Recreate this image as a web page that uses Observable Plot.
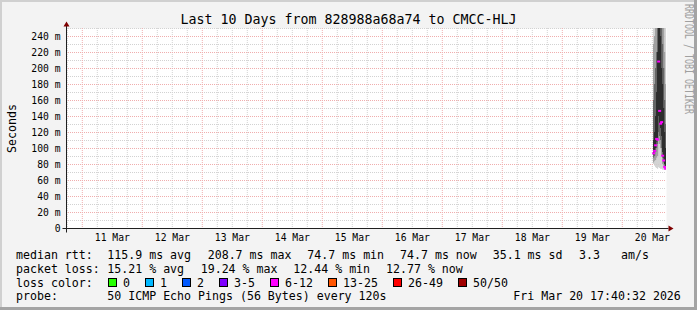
<!DOCTYPE html>
<html><head><meta charset="utf-8">
<script src="https://cdn.jsdelivr.net/npm/d3@7"></script>
<script src="https://cdn.jsdelivr.net/npm/@observablehq/plot@0.6"></script>
<style>
body{margin:0;background:#f3f3f3}
svg text{font-family:"DejaVu Sans Mono",monospace}
</style>
</head><body><div id="chart"></div>
<script>
// ---------- data ----------
const title = "Last 10 Days from 828988a68a74 to CMCC-HLJ";
const yLabel = "Seconds";
const watermark = "RRDTOOL / TOBI OETIKER";
const endTime = new Date("2026-03-20T17:40:32Z");
const spanDays = 10;

const tickDays = ["2026-03-11","2026-03-12","2026-03-13","2026-03-14","2026-03-15","2026-03-16","2026-03-17","2026-03-18","2026-03-19","2026-03-20"];
const dayLabels = ["11 Mar","12 Mar","13 Mar","14 Mar","15 Mar","16 Mar","17 Mar","18 Mar","19 Mar","20 Mar"];
const yTicks = [0,20,40,60,80,100,120,140,160,180,200,220,240];
const yTickLabels = ["0","20 m","40 m","60 m","80 m","100 m","120 m","140 m","160 m","180 m","200 m","220 m","240 m"];

const sampleTimes = ["2026-03-20T12:32Z","2026-03-20T12:56Z","2026-03-20T13:20Z","2026-03-20T13:44Z","2026-03-20T14:08Z","2026-03-20T14:32Z","2026-03-20T14:56Z","2026-03-20T15:20Z","2026-03-20T15:44Z","2026-03-20T16:08Z","2026-03-20T16:32Z","2026-03-20T16:56Z","2026-03-20T17:20Z"];
const medianMs = [94, 97, 104, 112, 111, 208.7, 147, 131, 133, 91, 85, 77, 74.7];
const lossPct  = [14.5, 16, 15, 13, 17, 19.24, 16, 15, 14, 15.5, 13, 12.44, 12.77];
const pingMin  = [80, 78, 76, 75, 74, 76, 75, 74, 74, 73, 73, 73, 73];
const ping10   = [82, 84, 85, 88, 90, 110, 105, 100, 90, 80, 78, 76, 75];
const ping25   = [88, 90, 95, 100, 105, 120, 115, 110, 100, 88, 82, 78, 76];
const ping40   = [92, 95, 100, 108, 110, 140, 130, 125, 115, 95, 88, 80, 77];
const ping60   = [110, 120, 140, 170, 220, 300, 280, 240, 200, 180, 150, 120, 100];
const ping75   = [160, 180, 200, 220, 260, 300, 300, 280, 260, 230, 200, 160, 130];
const ping90   = [230, 240, 250, 260, 270, 300, 300, 300, 300, 280, 260, 220, 180];
const pingMax  = [300, 300, 300, 300, 300, 300, 300, 300, 300, 300, 300, 300, 300];
const stepMinutes = 24;

const lossLabels = ["0","1","2","3-5","6-12","13-25","26-49","50/50"];
const lossUpper  = [0, 1, 2, 5, 12, 25, 49, 50];
const lossColors = ["#26ff00","#00b8ff","#0059ff","#7e00ff","#ff00ff","#ff5500","#ff0000","#a10000"];
const pingsPerProbe = 50;

const rttStats  = ["115.9 ms avg","208.7 ms max","74.7 ms min","74.7 ms now","35.1 ms sd","3.3","am/s"];
const lossStats = ["15.21 % avg","19.24 % max","12.44 % min","12.77 % now"];
const probeText = "50 ICMP Echo Pings (56 Bytes) every 120s";
const stampText = "Fri Mar 20 17:40:32 2026";

// ---------- layout ----------
const W = 697, H = 310;
const rttX  = [107.3, 207.7, 307.3, 400, 492.7, 579, 621];
const lossX = [107.3, 200.7, 293.3, 386];
const boxX  = [108, 145, 182, 219, 270, 328, 393, 458];
const rowY  = [259, 272.8, 286.6, 300.4];

// ---------- derived ----------
const startTime = new Date(+endTime - spanDays * 864e5);
const tickDates = tickDays.map(d => new Date(d + "T12:00:00Z"));
const dayLines = d3.utcDay.range(startTime, endTime);
const sixHourLines = d3.utcHour.every(6).range(startTime, endTime).filter(d => d.getUTCHours() !== 0);
const yMajor = d3.range(20, 251, 20);
const yMinor = d3.range(10, 251, 20);

function lossColor(p) {
  const n = Math.round(p * pingsPerProbe / 100);
  const i = lossUpper.findIndex(u => n <= u);
  return lossColors[i < 0 ? lossColors.length - 1 : i];
}
const rows = sampleTimes.map((s, i) => {
  const t0 = new Date(s);
  return {t0, t1: new Date(+t0 + stepMinutes * 6e4), med: medianMs[i], loss: lossPct[i],
    min: pingMin[i], p10: ping10[i], p25: ping25[i], p40: ping40[i], p60: ping60[i],
    p75: ping75[i], p90: ping90[i], max: pingMax[i]};
});

const smoke = (lo, hi, fill) => Plot.rect(rows, {x1: "t0", x2: "t1", y1: lo, y2: hi, fill, clip: true});

const plot = Plot.plot({
  width: W, height: H,
  marginLeft: 66, marginRight: 31, marginTop: 28, marginBottom: 82,
  style: {background: "#f3f3f3", fontFamily: "DejaVu Sans Mono", fontSize: "9.7px", color: "#000", overflow: "visible"},
  x: {type: "utc", domain: [startTime, endTime], ticks: tickDates,
      tickFormat: d => dayLabels[tickDates.findIndex(t => +t === +d)], tickSize: 0, tickPadding: 6, label: null},
  y: {domain: [0, 250], ticks: yTicks, tickFormat: d => yTickLabels[yTicks.indexOf(d)], tickSize: 0, tickPadding: 6, label: null},
  color: {type: "identity"},
  marks: [
    Plot.frame({fill: "#ffffff", stroke: "none"}),
    Plot.ruleX(sixHourLines, {stroke: "#d2d2d2", strokeDasharray: "1,1"}),
    Plot.ruleY(yMinor, {stroke: "#d2d2d2", strokeDasharray: "1,1"}),
    Plot.ruleX(dayLines, {stroke: "#f0aeae", strokeDasharray: "1,1"}),
    Plot.ruleY(yMajor, {stroke: "#f0aeae", strokeDasharray: "1,1"}),
    smoke("min", "max", "#cdcdcd"),
    smoke("p10", "p90", "#9a9a9a"),
    smoke("p25", "p75", "#5e5e5e"),
    smoke("p40", "p60", "#262626"),
    Plot.ruleY(rows, {y: "med", x1: "t0", x2: "t1", stroke: d => lossColor(d.loss), strokeWidth: 2, strokeLinecap: "square", clip: true})
  ]
});

const svg = d3.select(plot);
const sx = plot.scale("x"), sy = plot.scale("y");
const x0 = Math.round(sx.apply(startTime)) + 0.5, x1 = Math.round(sx.apply(endTime)) + 0.5;
const y0 = Math.round(sy.apply(0)) + 0.5, yT = Math.round(sy.apply(250)) + 0.5;

// axes with arrows
svg.append("line").attr("x1", x0 - 4).attr("x2", x1 + 2).attr("y1", y0).attr("y2", y0).attr("stroke", "#202020");
svg.append("line").attr("x1", x0).attr("x2", x0).attr("y1", y0 + 4).attr("y2", yT - 3).attr("stroke", "#202020");
svg.append("polygon").attr("points", `${x1+2},${y0-3} ${x1+7},${y0} ${x1+2},${y0+3}`).attr("fill", "#7f0000");
svg.append("polygon").attr("points", `${x0-3},${yT-2} ${x0},${yT-7} ${x0+3},${yT-2}`).attr("fill", "#7f0000");

// frame shading
svg.append("rect").attr("x", 0).attr("y", 0).attr("width", W).attr("height", 2).attr("fill", "#d0d0d0");
svg.append("rect").attr("x", 0).attr("y", 0).attr("width", 2).attr("height", H).attr("fill", "#d0d0d0");
svg.append("rect").attr("x", W - 3).attr("y", 0).attr("width", 3).attr("height", H).attr("fill", "#a4a4a4");
svg.append("rect").attr("x", 0).attr("y", H - 3).attr("width", W).attr("height", 3).attr("fill", "#a4a4a4");

// title, y label, watermark
svg.append("text").attr("x", W / 2).attr("y", 24).attr("text-anchor", "middle").attr("font-size", "13.3px").attr("fill", "#000").text(title);
svg.append("text").attr("transform", `translate(16,${(yT + y0) / 2}) rotate(-90)`).attr("text-anchor", "middle").attr("font-size", "11.6px").attr("fill", "#000").text(yLabel);
svg.append("text").attr("transform", "translate(685,4) rotate(90)").attr("text-anchor", "start").attr("font-size", "11.5px").attr("fill", "#a0a0a0")
  .attr("textLength", 110).attr("lengthAdjust", "spacingAndGlyphs").text(watermark);

// legend
const leg = svg.append("g").attr("font-size", "11.6px").attr("fill", "#000").attr("text-anchor", "start");
const put = (x, y, s) => leg.append("text").attr("x", x).attr("y", y).attr("text-anchor", "start").text(s);
put(16, rowY[0], "median rtt:");
rttStats.forEach((s, i) => put(rttX[i], rowY[0], s));
put(16, rowY[1], "packet loss:");
lossStats.forEach((s, i) => put(lossX[i], rowY[1], s));
put(16, rowY[2], "loss color:");
lossLabels.forEach((s, i) => {
  leg.append("rect").attr("x", boxX[i] + 0.5).attr("y", 278.5).attr("width", 8).attr("height", 8)
    .attr("fill", lossColors[i]).attr("stroke", "#000");
  put(boxX[i] + 15, rowY[2], s);
});
put(16, rowY[3], "probe:");
put(107.3, rowY[3], probeText);
put(513.3, rowY[3], stampText);

document.getElementById("chart").appendChild(plot);
</script>
</body></html>
